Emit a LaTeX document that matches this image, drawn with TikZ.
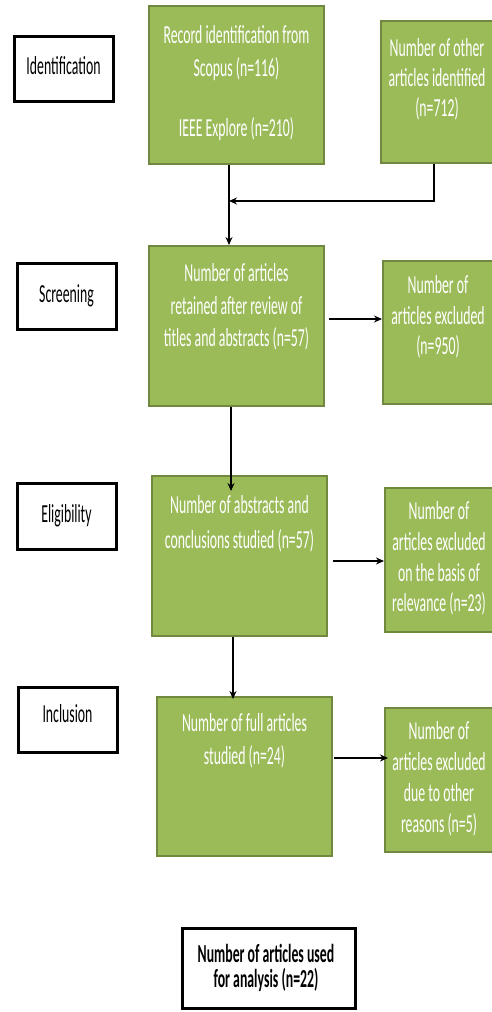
\documentclass[tikz,border=0pt]{standalone}
\usepackage{fontspec}
\setmainfont{Carlito}[FakeStretch=0.53]
\usetikzlibrary{arrows.meta}
\definecolor{gfill}{HTML}{9BBB59}
\definecolor{gdraw}{HTML}{71893F}
\begin{document}
\begin{tikzpicture}[x=1pt,y=-1pt,
  gbox/.style={draw=gdraw, line width=2pt, fill=gfill, inner sep=0pt},
  lbox/.style={draw=black, line width=3pt, fill=white, inner sep=0pt, text=black,
    font=\fontsize{26}{30}\selectfont},
  wtxt/.style={text=white, align=center, anchor=north, inner sep=0pt,
    font=\fontsize{26}{31}\selectfont},
  btxt/.style={text=black, align=center, inner sep=0pt,
    font=\bfseries\fontsize{26}{25}\selectfont},
  arr/.style={line width=1.5pt, -{Stealth[length=8pt,width=7pt]}}]
\useasboundingbox (0,0) rectangle (491,1012);

% stage labels
\node[lbox, minimum width=99pt, minimum height=65pt] (lid) at (63.5,68.5) {\raisebox{7pt}{Identification}};
\node[lbox, minimum width=99pt, minimum height=66pt] (lsc) at (66.5,296) {Screening};
\node[lbox, minimum width=99pt, minimum height=66pt] (lel) at (66.5,516) {Eligibility};
\node[lbox, minimum width=99pt, minimum height=65pt] (lin) at (67.5,719.5) {\raisebox{13pt}{Inclusion}};

% green boxes
\node[gbox, minimum width=175pt, minimum height=158pt] (b1) at (236.5,85) {};
\node[wtxt, font=\fontsize{26}{30}\selectfont] (t1) at ([yshift=-20.5pt]b1.north) {Record identification from\\[3pt]Scopus (n=116)\\[30pt]IEEE Explore (n=210)};

\node[gbox, minimum width=112pt, minimum height=142pt] (oth) at (437,92) {};
\node[wtxt, font=\fontsize{26}{30}\selectfont] (t2) at ([yshift=-18.5pt]oth.north) {Number of other\\articles identified\\(n=712)};

\node[gbox, minimum width=175pt, minimum height=160pt] (scr) at (236.5,326) {};
\node[wtxt, font=\fontsize{26}{32.5}\selectfont] (t3) at ([yshift=-18.5pt]scr.north) {Number of articles\\retained after review of\\titles and abstracts (n=57)};

\node[gbox, minimum width=110pt, minimum height=143pt] (ex1) at (438,332.5) {};
\node[wtxt, font=\fontsize{26}{30.5}\selectfont] (t4) at ([yshift=-15.5pt]ex1.north) {Number of\\articles excluded\\(n=950)};

\node[gbox, minimum width=175pt, minimum height=160pt] (eli) at (239.5,556) {};
\node[wtxt, font=\fontsize{26}{35}\selectfont] (t5) at ([yshift=-20.5pt]eli.north) {Number of abstracts and\\conclusions studied (n=57)};

\node[gbox, minimum width=108pt, minimum height=144pt] (ex2) at (439,560) {};
\node[wtxt, font=\fontsize{26}{30.7}\selectfont] (t6) at ([yshift=-14.5pt]ex2.north) {Number of\\articles excluded\\on the basis of\\relevance (n=23)};

\node[gbox, minimum width=175pt, minimum height=159pt] (inc) at (244.5,776.5) {};
\node[wtxt, font=\fontsize{26}{33}\selectfont] (t7) at ([yshift=-17.5pt]inc.north) {Number of full articles\\studied (n=24)};

\node[gbox, minimum width=108pt, minimum height=144pt] (ex3) at (439,780) {};
\node[wtxt, font=\fontsize{26}{31}\selectfont] (t8) at ([yshift=-14.5pt]ex3.north) {Number of\\articles excluded\\due to other\\reasons (n=5)};

% final box
\node[lbox, minimum width=173pt, minimum height=80pt] (fin) at (268.5,968) {};
\node[btxt] (t9) at (266,968) {Number of articles used\\for analysis (n=22)};

% connectors
\coordinate (j) at (229,201);
\draw[arr] ([xshift=-7.5pt]b1.south) -- ([xshift=-7.5pt]scr.north);
\draw[arr] ([xshift=-3pt]oth.south) |- (j);
\draw[arr] ([xshift=-5.5pt]scr.south) -- ([xshift=-8.5pt,yshift=-16pt]eli.north);
\draw[arr] ([xshift=-6.5pt]eli.south) -- ([xshift=-11.5pt,yshift=-3pt]inc.north);
\draw[arr] ([xshift=4pt,yshift=7pt]scr.east) coordinate (a1) -- (a1 -| ex1.west);
\draw[arr] ([xshift=5pt,yshift=-5pt]eli.east) coordinate (a2) -- (a2 -| ex2.west);
\draw[arr] ([xshift=1pt,yshift=18.5pt]inc.east) coordinate (a3) -- ([xshift=4pt]a3 -| ex3.west);
\end{tikzpicture}
\end{document}
